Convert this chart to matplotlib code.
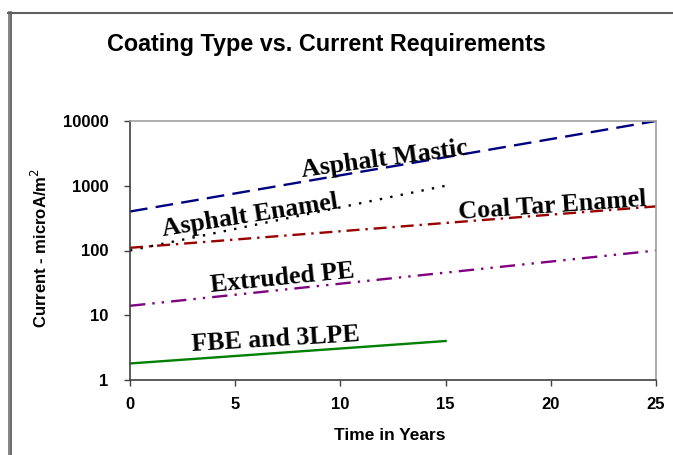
import matplotlib
matplotlib.use("Agg")
import matplotlib.pyplot as plt
from matplotlib.lines import Line2D

# Data
mastic_x = [0, 25]
mastic_y = [400, 10000]
enamel_x = [0, 15]
enamel_y = [100, 1000]
coaltar_x = [0, 25]
coaltar_y = [110, 480]
pe_x = [0, 25]
pe_y = [14, 100]
fbe_x = [0, 15]
fbe_y = [1.8, 4.0]

x_ticks = [0, 5, 10, 15, 20, 25]
y_ticks = [1, 10, 100, 1000, 10000]
y_tick_labels = ["1", "10", "100", "1000", "10000"]

W, H = 673, 455
fig = plt.figure(figsize=(W / 100, H / 100), dpi=100)
ax = fig.add_axes([130 / W, 1 - 380 / H, (656 - 130) / W, (380 - 121) / H])

lw = 1.7
ax.plot(mastic_x, mastic_y, color="#000080", lw=lw, dashes=(7.5, 3.5))
ax.plot(enamel_x, enamel_y, color="black", lw=lw, dashes=(1, 3.5))
ax.plot(coaltar_x, coaltar_y, color="#990000", lw=lw, dashes=(5.5, 2.5, 1, 2.5))
ax.plot(pe_x, pe_y, color="#800080", lw=lw, dashes=(6.5, 3, 1, 3, 1, 3))
ax.plot(fbe_x, fbe_y, color="#008000", lw=lw)

ax.set_yscale("log")
ax.set_xlim(0, 25)
ax.set_ylim(1, 10000)
ax.set_xticks(x_ticks)
ax.set_xticklabels([str(t) for t in x_ticks])
ax.set_yticks(y_ticks)
ax.set_yticklabels(y_tick_labels)
ax.minorticks_off()

sans = ["Liberation Sans", "DejaVu Sans"]
for lab in ax.get_xticklabels() + ax.get_yticklabels():
    lab.set_fontfamily(sans)
    lab.set_fontweight("bold")
    lab.set_fontsize(12)
ax.tick_params(axis="both", direction="out", length=4.5, width=1, color="#404040")
ax.tick_params(axis="x", pad=8)
ax.tick_params(axis="y", pad=11)

for side in ["left", "bottom"]:
    ax.spines[side].set_color("#404040")
    ax.spines[side].set_linewidth(1.2)
for side in ["top", "right"]:
    ax.spines[side].set_color("#a0a0a0")
    ax.spines[side].set_linewidth(1.2)

fig.text(390 / W, 1 - 436 / H, "Time in Years", ha="center", va="center",
         fontfamily=sans, fontweight="bold", fontsize=12.5)
fig.text(40 / W, 1 - 248 / H, "Current - microA/m$^2$", rotation=90, ha="center", va="center",
         fontfamily=sans, fontweight="bold", fontsize=12)

fig.text(326 / W, 1 - 45 / H, "Coating Type vs. Current Requirements", ha="center", va="center",
         fontfamily=sans, fontweight="bold", fontsize=16.8)

serif = ["Liberation Serif", "DejaVu Serif"]
labels = [
    ("Asphalt Mastic", 385, 159, 7.8),
    ("Asphalt Enamel", 250, 216, 9),
    ("Coal Tar Enamel", 553, 206, 4),
    ("Extruded PE", 282, 278, 5.8),
    ("FBE and 3LPE", 276, 340, 3.4),
]
for txt, px, py, rot in labels:
    fig.text(px / W, 1 - py / H, txt, ha="center", va="center", rotation=rot,
             rotation_mode="anchor", fontfamily=serif, fontweight="bold", fontsize=18.6)

# outer frame lines
def pline(x0, y0, x1, y1, c, w):
    fig.add_artist(Line2D([x0 / W, x1 / W], [1 - y0 / H, 1 - y1 / H], color=c, lw=w,
                          transform=fig.transFigure))

pline(8.5, 12, 8.5, H, "#707070", 1.2)
pline(11.5, 12, 11.5, H, "#505050", 1.2)
pline(8, 12.5, W, 12.5, "#606060", 1.5)

fig.savefig("out.png", dpi=100)
